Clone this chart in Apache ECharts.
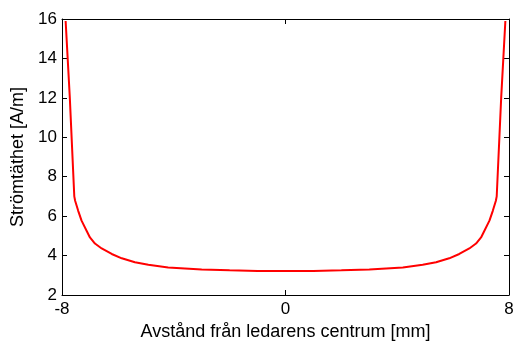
<!DOCTYPE html>
<html>
<head>
<meta charset="utf-8">
<script src="https://cdn.jsdelivr.net/npm/echarts@6/dist/echarts.min.js"></script>
<style>html,body{margin:0;padding:0;background:#fff}#c{width:525px;height:350px}</style>
</head>
<body>
<div id="c"></div>
<script>
var xPos = [-7.87, -7.72, -7.56, -7.53, -7.42, -7.30, -7.12, -7.00, -6.82, -6.58, -6.22, -5.86, -5.39, -4.91, -4.20, -3.60, -3.00, -2.00, -1.00, 0.00,
            1.00, 2.00, 3.00, 3.60, 4.20, 4.91, 5.39, 5.86, 6.22, 6.58, 6.82, 7.00, 7.12, 7.30, 7.42, 7.53, 7.56, 7.72, 7.87];
var density = [15.9, 12.0, 7.0, 6.78, 6.27, 5.77, 5.26, 4.92, 4.61, 4.36, 4.08, 3.86, 3.66, 3.53, 3.40, 3.35, 3.29, 3.25, 3.22, 3.22,
               3.22, 3.25, 3.29, 3.35, 3.40, 3.53, 3.66, 3.86, 4.08, 4.36, 4.61, 4.92, 5.26, 5.77, 6.27, 6.78, 7.0, 12.0, 15.9];
var xTicks = [-8, 0, 8];
var yTicks = [2, 4, 6, 8, 10, 12, 14, 16];
var xTitle = 'Avstånd från ledarens centrum [mm]';
var yTitle = 'Strömtäthet [A/m]';

var pts = xPos.map(function (x, i) { return [x, density[i]]; });
var font = 'Arial, "Liberation Sans", sans-serif';
var chart = echarts.init(document.getElementById('c'), null, {renderer: 'canvas'});
var lineStyle = {color: '#000', width: 1};
chart.setOption({
  animation: false,
  backgroundColor: '#fff',
  grid: {left: 62, right: 16, top: 19, bottom: 55, containLabel: false},
  xAxis: [{
    type: 'value', min: -8, max: 8, interval: 8,
    name: xTitle, nameLocation: 'middle', nameGap: 26,
    nameTextStyle: {color: '#000', fontSize: 18, fontFamily: font},
    axisLine: {show: true, onZero: false, lineStyle: lineStyle},
    axisTick: {show: true, inside: true, length: 5, lineStyle: lineStyle},
    axisLabel: {color: '#000', fontSize: 17, fontFamily: font, margin: 6,
      formatter: function (v) { return xTicks.indexOf(v) >= 0 ? String(v) : ''; }},
    splitLine: {show: false}
  }, {
    type: 'value', min: -8, max: 8, interval: 8, position: 'top',
    axisLine: {show: true, onZero: false, lineStyle: lineStyle},
    axisTick: {show: true, inside: true, length: 5, lineStyle: lineStyle},
    axisLabel: {show: false}, splitLine: {show: false}
  }],
  yAxis: [{
    type: 'value', min: 2, max: 16, interval: 2,
    name: yTitle, nameLocation: 'middle', nameGap: 22,
    nameTextStyle: {color: '#000', fontSize: 18, fontFamily: font},
    axisLine: {show: true, onZero: false, lineStyle: lineStyle},
    axisTick: {show: true, inside: true, length: 5, lineStyle: lineStyle},
    axisLabel: {color: '#000', fontSize: 17, fontFamily: font, margin: 5,
      formatter: function (v) { return yTicks.indexOf(v) >= 0 ? String(v) : ''; }},
    splitLine: {show: false}
  }, {
    type: 'value', min: 2, max: 16, interval: 2, position: 'right',
    axisLine: {show: true, onZero: false, lineStyle: lineStyle},
    axisTick: {show: true, inside: true, length: 5, lineStyle: lineStyle},
    axisLabel: {show: false}, splitLine: {show: false}
  }],
  series: [{
    type: 'line', data: pts, xAxisIndex: 0, yAxisIndex: 0,
    showSymbol: false, symbol: 'none', smooth: false,
    lineStyle: {color: '#ff0000', width: 2}
  }]
});
</script>
</body>
</html>
